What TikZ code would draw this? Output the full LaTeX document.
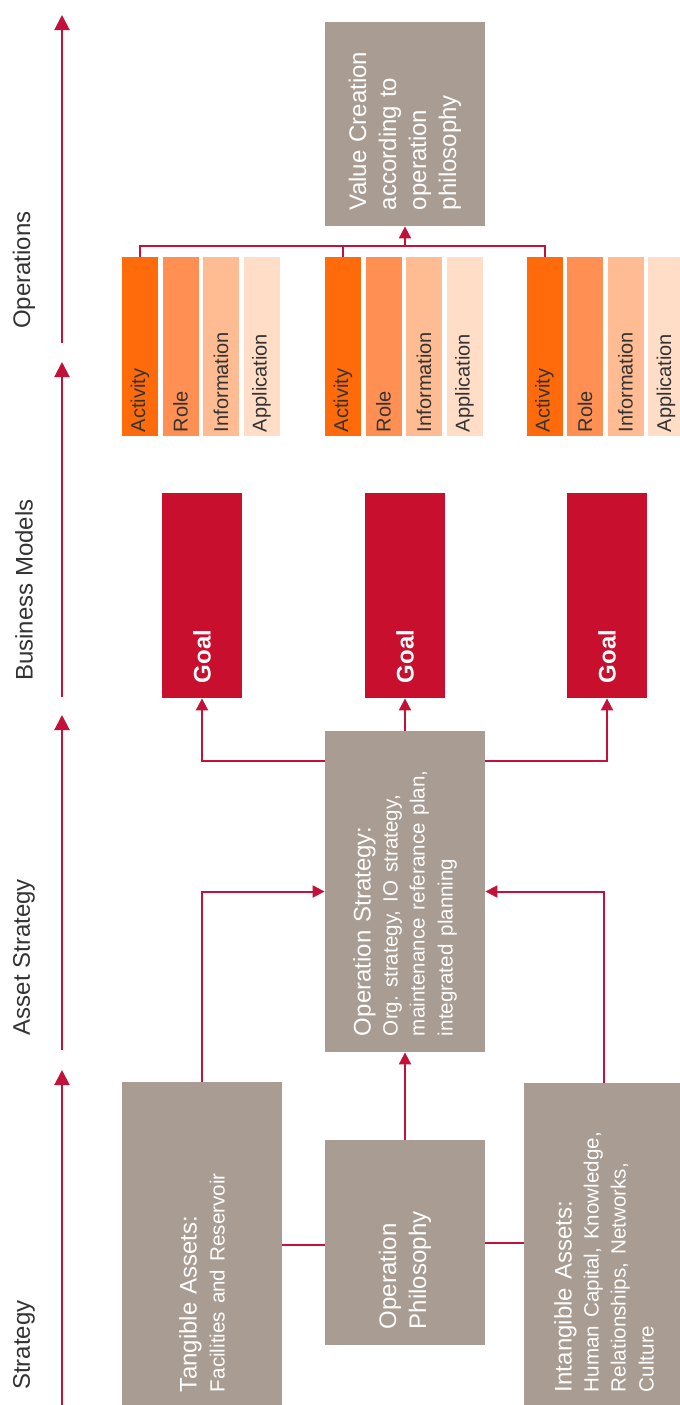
\documentclass[tikz,border=0pt]{standalone}
\usepackage{fontspec}
\setmainfont{Liberation Sans}
\usetikzlibrary{arrows.meta,positioning,calc}
\frenchspacing

\definecolor{stone}{HTML}{A89C93}
\definecolor{goalred}{HTML}{C8102E}
\definecolor{linkred}{HTML}{C2123A}
\definecolor{orA}{HTML}{FF6A0A}
\definecolor{orB}{HTML}{FF8F52}
\definecolor{orC}{HTML}{FFBC92}
\definecolor{orD}{HTML}{FFDDC7}
\definecolor{ink}{HTML}{333333}

\newcommand{\headtxt}{\fontsize{12}{14}\selectfont}
\newcommand{\subtxt}{\fontsize{10.3}{13.5}\selectfont}

\tikzset{
  stonebox/.style 2 args={rotate=90, fill=stone, text=white, align=left,
    inner xsep=8pt, inner ysep=0pt, text width=#1, minimum height=#2, font=\headtxt},
  goalbox/.style={rotate=90, fill=goalred, text=white, align=left,
    inner xsep=7.5pt, inner ysep=0pt, text width=87.5pt, minimum height=40pt,
    font=\headtxt\bfseries},
  bar/.style={rotate=90, fill=#1, text=ink, align=left, inner xsep=2pt,
    inner ysep=0pt, text width=85.5pt, minimum height=18pt,
    font=\fontsize{10}{12}\selectfont},
  phase/.style={rotate=90, text=ink, font=\headtxt},
  link/.style={draw=linkred, line width=1pt},
  flow/.style={link, -{Triangle[length=6pt,width=6pt]}},
  axis/.style={draw=linkred, line width=1pt, -{Triangle[length=7.5pt,width=7.5pt]}}
}

\begin{document}
\begin{tikzpicture}[x=0.5pt,y=-0.5pt]
      \useasboundingbox (0,0) rectangle (680,1405);

      % phase axis on the left
      \coordinate (s0) at (62,1405); \coordinate (s1) at (62,1070);
      \coordinate (a0) at (62,1050); \coordinate (a1) at (62,715);
      \coordinate (b0) at (62,697);  \coordinate (b1) at (62,362);
      \coordinate (o0) at (62,343);  \coordinate (o1) at (62,15);
      \draw[axis] (s0) -- (s1);
      \draw[axis] (a0) -- (a1);
      \draw[axis] (b0) -- (b1);
      \draw[axis] (o0) -- (o1);
      \node[phase](ops) at (24,270){Operations};
      \node[phase](bm) at (24,590){Business Models};
      \node[phase](as) at (24,957){Asset Strategy};
      \node[phase](st) at (24,1345){Strategy};

      % strategy boxes
      \node[stonebox={147pt}{80pt}](tangible) at (202,1245)
        {Tangible Assets:\\\subtxt Facilities and Reservoir};
      \node[stonebox={86.5pt}{80pt}, font=\fontsize{12}{15}\selectfont](ophil) at (405,1242.5)
        {Operation\\Philosophy};
      \node[stonebox={146.5pt}{80pt}](intangible) at (604,1245.5)
        {Intangible Assets:\\\subtxt Human Capital, Knowledge,\\Relationships, Networks,\\Culture};
      \node[stonebox={144.5pt}{80pt}](opstrat) at (405,891.5)
        {Operation Strategy:\\\subtxt Org. strategy, IO strategy,\\maintenance referance plan,\\integrated planning};

      % goals
      \node[goalbox](goal1) at (202,595.5){Goal};
      \node[goalbox](goal2) at (405,595.5){Goal};
      \node[goalbox](goal3) at (607,595.5){Goal};

      % business model bars
      \node[bar=orA](act1) at (140,346.5){Activity};
      \node[bar=orB](role1) at (180.5,346.5){Role};
      \node[bar=orC](info1) at (221,346.5){Information};
      \node[bar=orD](app1) at (261.5,346.5){Application};
      \node[bar=orA](act2) at (343,346.5){Activity};
      \node[bar=orB](role2) at (383.5,346.5){Role};
      \node[bar=orC](info2) at (424,346.5){Information};
      \node[bar=orD](app2) at (464.5,346.5){Application};
      \node[bar=orA](act3) at (544.5,346.5){Activity};
      \node[bar=orB](role3) at (585,346.5){Role};
      \node[bar=orC](info3) at (625.5,346.5){Information};
      \node[bar=orD](app3) at (666,346.5){Application};

      \node[stonebox={86pt}{80pt}, font=\fontsize{12}{15}\selectfont](value) at (405,124)
        {Value Creation\\according to\\operation\\philosophy};

      % connectors
      \draw[link] (tangible.south) -- (tangible.south -| ophil.north);
      \draw[link] (ophil.south) -- (ophil.south -| intangible.north);
      \draw[flow] (ophil.east) -- (opstrat.west);
      \draw[flow] (tangible.east) |- (opstrat.north);
      \draw[flow] (intangible.east) |- (opstrat.south);
      \draw[flow] (opstrat.east) -- (goal2.west);
      \draw[flow] (opstrat.north east) ++(0,30) -| (goal1.west);
      \draw[flow] (opstrat.south east) ++(0,30) -| (goal3.west);

      \coordinate (hub) at (405,246);
      \draw[link] (act1.east) |- (hub) -| (act3.east);
      \draw[link] (act2.east) -- (act2.east |- hub);
      \draw[flow] (hub) -- (value.west);
    \end{tikzpicture}
\end{document}
